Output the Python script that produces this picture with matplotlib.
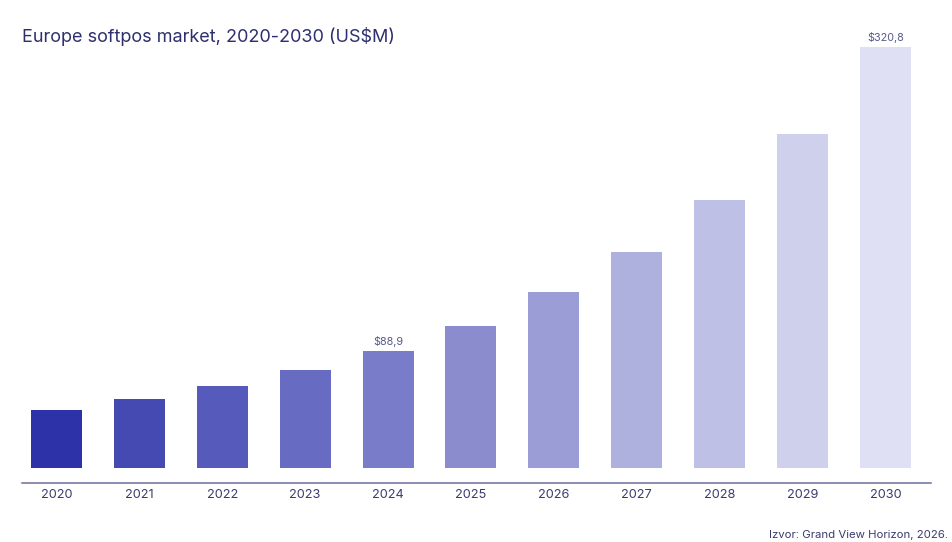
"""Europe softpos market bar chart, 2020-2030."""

import matplotlib
matplotlib.use("Agg")
import matplotlib.pyplot as plt

plt.rcParams["font.family"] = ["Inter", "DejaVu Sans"]

YEARS = ["2020", "2021", "2022", "2023", "2024", "2025",
         "2026", "2027", "2028", "2029", "2030"]
VALUES = [44.0, 52.2, 62.3, 74.3, 88.9, 108.1, 133.7, 164.3, 204.1, 254.5, 320.8]
BAR_COLORS = ["#2E32A8", "#4549B2", "#565ABB", "#676BC1", "#797CC8", "#8A8CCE",
              "#9B9ED6", "#AEB0DE", "#BEC0E5", "#CFD0EB", "#DFE0F3"]
LABELLED = {"2024": "$88,9", "2030": "$320,8"}

TITLE = "Europe softpos market, 2020-2030 (US$M)"
SOURCE = "Izvor: Grand View Horizon, 2026."

NAVY = "#2E2F6E"
TICK_COLOR = "#3A3D6E"
LABEL_COLOR = "#555A8C"
SPINE_COLOR = "#6B6F9A"

W, H = 952, 542
fig = plt.figure(figsize=(W / 100, H / 100), dpi=100)
fig.patch.set_facecolor("white")

# axes in pixel coords: left 22, right 931, top 30, bottom 483
left, right, top, bottom = 22, 931, 30, 483.3
ax = fig.add_axes([left / W, 1 - bottom / H, (right - left) / W, (bottom - top) / H])

x = list(range(len(YEARS)))
ax.bar(x, VALUES, width=0.615, color=BAR_COLORS, edgecolor="none", zorder=2)

for i, (yr, v) in enumerate(zip(YEARS, VALUES)):
    if yr in LABELLED:
        ax.text(i, v + 3, LABELLED[yr], ha="center", va="bottom",
                fontsize=7.8, color=LABEL_COLOR)

ax.set_xlim(-0.416, 10.55)
ax.set_ylim(-11.9, 333.8)
ax.set_xticks(x)
ax.set_xticklabels(YEARS, fontsize=9.2, color=TICK_COLOR)
ax.tick_params(axis="x", length=0, pad=4)
ax.set_yticks([])

for side in ["top", "right", "left"]:
    ax.spines[side].set_visible(False)
ax.spines["bottom"].set_color(SPINE_COLOR)
ax.spines["bottom"].set_linewidth(1.1)

fig.text(22 / W, 1 - 36 / H, TITLE, ha="left", va="center",
         fontsize=13.0, color=NAVY)
fig.text(948 / W, 1 - 535 / H, SOURCE, ha="right", va="center",
         fontsize=8.2, color=TICK_COLOR)

fig.savefig("out.png", dpi=100)
